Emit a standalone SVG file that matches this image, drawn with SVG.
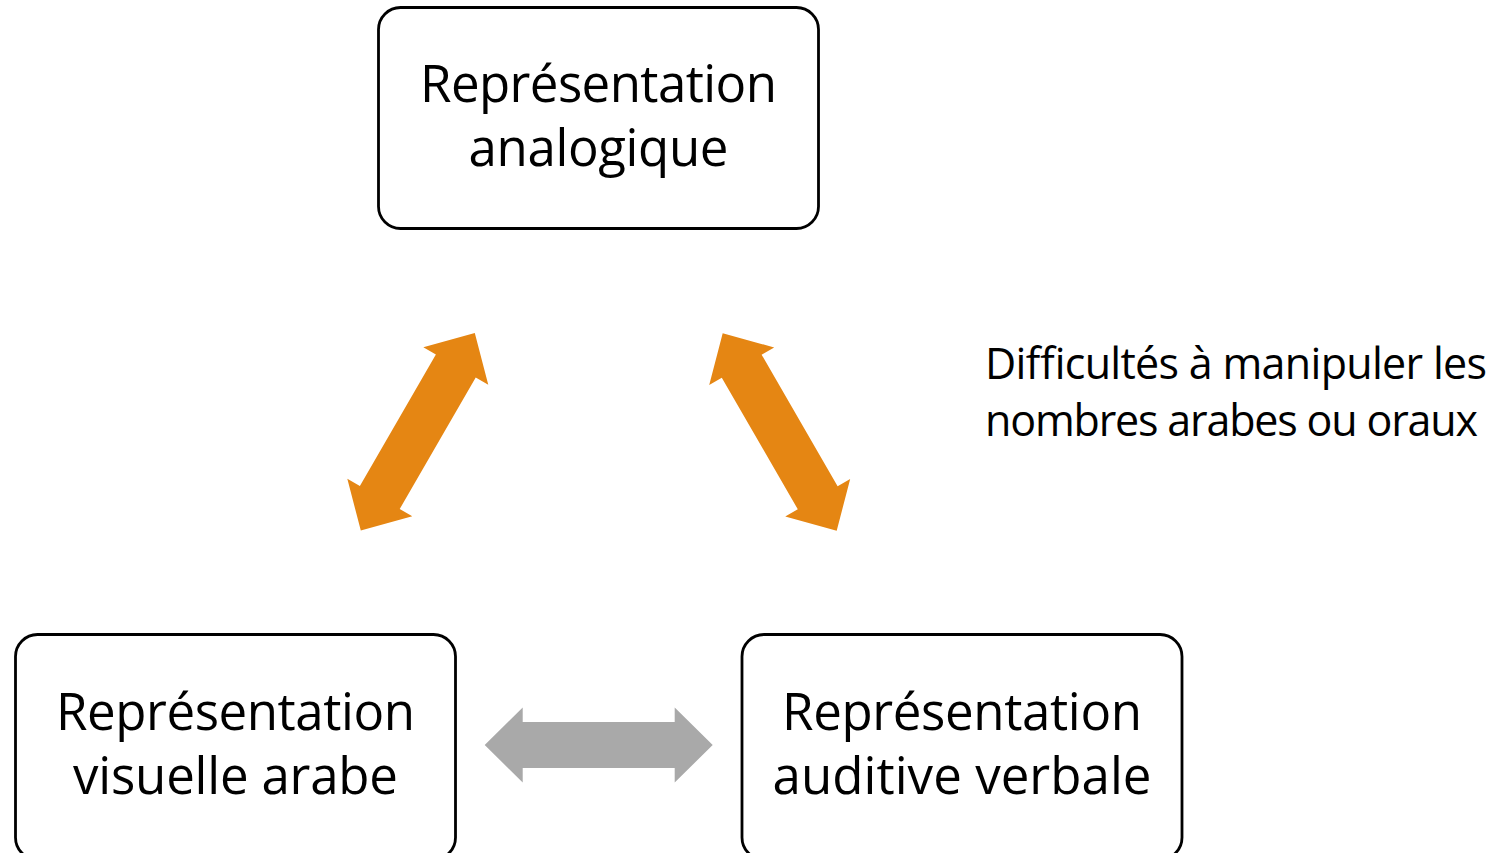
<svg xmlns="http://www.w3.org/2000/svg" width="1501" height="853" viewBox="0 0 1501 853">
  <defs>
    <style>
      .box { fill: #ffffff; stroke: #000000; stroke-width: 2.8; }
      .lbl { font-family: "Open Sans", "Noto Sans", "Liberation Sans", sans-serif; font-size: 51px; fill: #000000; text-anchor: middle; }
      .note { font-family: "Open Sans", "Noto Sans", "Liberation Sans", sans-serif; font-size: 43px; fill: #000000; }
      .orange { fill: #E58613; }
      .grey { fill: #A9A9A9; }
    </style>
    <!-- double-headed block arrow, centred on the origin, pointing along x -->
    <path id="dblArrow" d="M114,0 L76,-37.5 L76,-23 L-76,-23 L-76,-37.5 L-114,0 L-76,37.5 L-76,23 L76,23 L76,37.5 Z"/>
  </defs>

  <rect width="1501" height="853" fill="#ffffff"/>

  <g id="connectors">
    <use href="#dblArrow" class="orange" transform="translate(417.8,431.8) rotate(-60)"/>
    <use href="#dblArrow" class="orange" transform="translate(779.7,432) rotate(60)"/>
    <use href="#dblArrow" class="grey" transform="translate(598.7,745)"/>
  </g>

  <g id="node-analogique">
    <rect class="box" x="378.5" y="7.5" width="440" height="221" rx="22"/>
    <text class="lbl" x="598.5" y="102" textLength="357">Représentation</text>
    <text class="lbl" x="598.5" y="166" textLength="260">analogique</text>
  </g>

  <g id="node-visuelle-arabe">
    <rect class="box" x="15.5" y="634.5" width="440" height="225" rx="22"/>
    <text class="lbl" x="235.5" y="730" textLength="359">Représentation</text>
    <text class="lbl" x="235.5" y="794" textLength="325">visuelle arabe</text>
  </g>

  <g id="node-auditive-verbale">
    <rect class="box" x="742" y="634.5" width="440" height="225" rx="22"/>
    <text class="lbl" x="962" y="730" textLength="360">Représentation</text>
    <text class="lbl" x="962" y="794" textLength="379">auditive verbale</text>
  </g>

  <g id="note-difficultes">
    <text class="note" x="985" y="379" textLength="502">Difficultés à manipuler les</text>
    <text class="note" x="985" y="436" textLength="493">nombres arabes ou oraux</text>
  </g>
</svg>
